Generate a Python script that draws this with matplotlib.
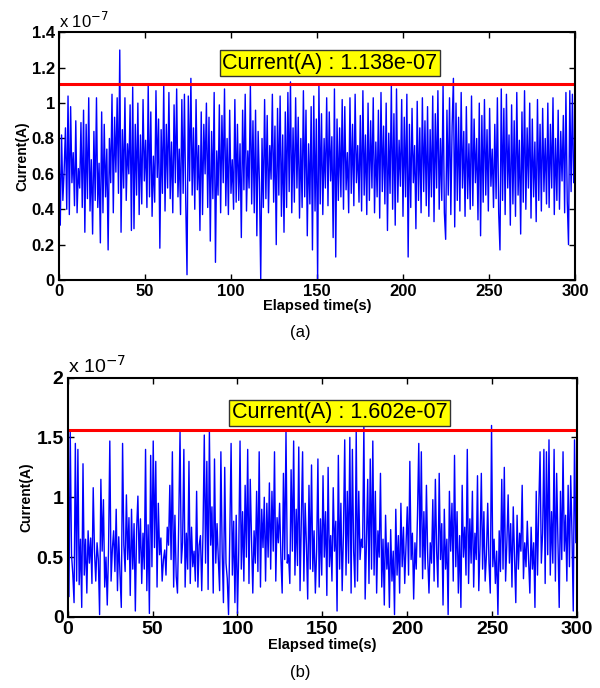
import numpy as np
import matplotlib
matplotlib.use("Agg")
import matplotlib.pyplot as plt

# values in units of 1e-7 A
current_a = [
    0.78, 0.31, 0.82, 0.45, 0.62, 0.86, 0.40, 1.04, 0.37, 0.98, 0.55, 0.72, 0.42, 0.90, 0.38, 0.63, 0.52, 0.89, 0.41, 0.96,
    0.27, 0.88, 0.46, 1.03, 0.39, 0.68, 0.26, 0.84, 0.45, 1.03, 0.41, 0.66, 0.21, 0.95, 0.38, 0.88, 0.47, 0.74, 0.17, 0.80,
    0.55, 1.05, 0.38, 0.92, 0.61, 1.03, 0.49, 1.30, 0.27, 0.85, 0.52, 1.03, 0.45, 0.77, 0.60, 0.99, 0.28, 1.09, 0.29, 0.88,
    0.48, 1.00, 0.37, 0.82, 0.43, 1.02, 0.56, 0.79, 0.41, 1.10, 0.47, 0.95, 0.36, 0.70, 0.44, 1.07, 0.58, 0.91, 0.18, 0.85,
    0.49, 1.10, 0.39, 0.88, 0.52, 1.06, 0.46, 0.78, 0.38, 0.99, 0.55, 1.08, 0.47, 0.74, 0.37, 1.02, 0.49, 1.05, 0.45, 0.03,
    1.04, 0.56, 1.14, 0.48, 0.86, 0.40, 1.02, 0.51, 0.76, 0.28, 0.95, 0.37, 0.88, 0.60, 1.00, 0.41, 0.92, 0.22, 0.84, 0.46,
    1.06, 0.10, 0.73, 0.48, 0.99, 0.38, 0.93, 0.55, 1.08, 0.42, 0.80, 0.37, 0.96, 0.49, 0.68, 0.40, 1.02, 0.44, 0.88, 0.45,
    0.77, 0.24, 0.96, 0.51, 1.05, 0.39, 0.73, 0.52, 1.10, 0.43, 0.90, 0.38, 0.96, 0.25, 0.84, 0.55, 0.00, 0.80, 0.41, 1.02,
    0.46, 0.93, 0.38, 0.76, 0.57, 1.05, 0.44, 0.87, 0.20, 0.97, 0.48, 1.04, 0.36, 0.82, 0.27, 0.95, 0.41, 1.06, 0.50, 1.12,
    0.38, 0.86, 0.44, 1.03, 0.52, 0.92, 0.35, 0.80, 0.41, 1.07, 0.47, 0.96, 0.25, 0.77, 0.43, 0.98, 0.17, 1.04, 0.39, 0.91,
    0.00, 1.10, 0.43, 0.94, 0.37, 0.80, 0.52, 1.03, 0.42, 0.95, 0.56, 0.81, 0.24, 1.08, 0.13, 0.91, 0.45, 0.86, 0.47, 1.02,
    0.40, 0.98, 0.51, 0.72, 0.38, 1.03, 0.49, 0.88, 0.42, 1.05, 0.55, 0.76, 0.44, 0.93, 0.39, 1.07, 0.48, 0.82, 0.37, 1.00,
    0.45, 0.90, 0.52, 1.03, 0.38, 0.78, 0.47, 0.96, 0.35, 1.06, 0.50, 0.87, 0.43, 1.00, 0.28, 0.83, 0.49, 1.10, 0.40, 0.94,
    0.31, 1.08, 0.44, 0.79, 0.53, 1.02, 0.36, 0.92, 0.47, 1.05, 0.13, 0.88, 0.41, 0.97, 0.55, 0.76, 0.29, 1.01, 0.45, 0.86,
    0.38, 1.03, 0.50, 0.90, 0.42, 0.98, 0.36, 0.85, 0.47, 1.04, 0.33, 0.94, 0.52, 1.07, 0.40, 0.80, 0.45, 1.10, 0.38, 0.23,
    0.96, 0.48, 1.03, 0.37, 0.87, 1.14, 0.30, 1.00, 0.45, 0.92, 0.39, 1.06, 0.52, 0.84, 0.36, 0.98, 0.46, 0.77, 0.40, 1.04,
    0.42, 0.91, 0.55, 0.80, 0.34, 1.00, 0.25, 0.93, 0.44, 1.02, 0.48, 0.85, 0.39, 0.97, 0.53, 0.74, 0.41, 0.88, 0.46, 1.03,
    0.38, 0.17, 1.08, 0.45, 0.97, 0.37, 1.05, 0.52, 0.82, 0.31, 0.99, 0.43, 0.90, 0.36, 1.06, 0.48, 0.79, 0.26, 0.95, 0.44,
    1.07, 0.40, 0.86, 0.52, 1.00, 0.35, 0.91, 0.47, 0.78, 0.33, 1.02, 0.45, 0.88, 0.39, 0.97, 0.50, 0.80, 0.43, 1.00, 0.41,
    0.88, 0.52, 1.03, 0.37, 0.80, 0.45, 0.96, 0.40, 0.84, 0.56, 0.93, 0.38, 1.06, 0.45, 0.20, 1.07, 0.50, 1.05, 0.55, 0.58,
]

current_b = [
    1.28, 0.17, 1.55, 0.52, 0.36, 0.12, 1.45, 0.30, 1.40, 0.27, 0.65, 0.08, 1.28, 0.35, 0.65, 0.20, 0.72, 0.45, 0.66, 0.28,
    1.08, 0.55, 0.30, 0.62, 0.48, 0.02, 1.15, 0.55, 0.98, 0.25, 0.50, 0.10, 0.56, 1.47, 0.30, 0.57, 0.72, 0.38, 0.90, 0.22,
    0.67, 0.35, 0.08, 1.45, 0.60, 0.38, 1.02, 0.48, 0.83, 0.18, 0.90, 0.40, 0.78, 0.05, 0.73, 1.01, 0.45, 0.82, 0.28, 0.70,
    0.40, 1.40, 0.22, 0.77, 0.03, 1.35, 0.42, 1.47, 0.58, 1.30, 0.25, 0.95, 0.52, 0.66, 0.30, 0.48, 0.56, 0.35, 0.75, 0.60,
    1.10, 0.48, 1.38, 0.25, 0.85, 0.34, 0.20, 0.80, 1.55, 0.45, 0.62, 1.40, 0.25, 0.70, 0.40, 1.30, 0.28, 0.75, 0.42, 0.55,
    0.30, 1.05, 0.25, 0.60, 0.68, 0.22, 0.71, 1.52, 0.45, 1.30, 0.23, 1.55, 0.60, 0.92, 0.20, 1.32, 0.45, 0.78, 0.48, 0.22,
    1.38, 0.55, 0.12, 1.25, 0.45, 0.32, 0.02, 0.70, 1.45, 0.35, 0.80, 0.12, 0.85, 0.03, 0.55, 1.47, 0.40, 0.88, 0.30, 1.10,
    0.50, 1.40, 0.28, 1.15, 0.65, 0.20, 0.72, 0.45, 1.05, 0.38, 1.38, 0.25, 0.90, 0.58, 1.00, 0.30, 0.95, 0.50, 1.12, 0.40,
    1.05, 0.55, 1.38, 0.30, 0.83, 0.62, 0.95, 0.50, 0.20, 1.20, 0.48, 1.55, 0.45, 0.52, 0.28, 1.23, 0.55, 1.47, 0.35, 0.90,
    0.43, 1.42, 0.22, 0.80, 1.38, 0.30, 0.95, 0.60, 0.15, 1.10, 0.40, 1.27, 0.38, 0.72, 0.20, 0.55, 1.32, 0.25, 0.82, 0.35,
    1.18, 0.50, 0.88, 0.18, 1.25, 0.42, 0.68, 0.30, 1.08, 0.55, 0.80, 0.05, 1.35, 0.40, 0.95, 0.22, 0.70, 1.48, 0.35, 1.05,
    0.45, 1.50, 0.20, 1.40, 0.55, 0.25, 1.55, 0.30, 1.05, 0.48, 0.65, 0.58, 1.60, 0.15, 0.62, 1.15, 0.28, 1.32, 0.40, 1.47,
    0.35, 1.05, 0.20, 0.72, 0.50, 1.20, 0.25, 0.65, 0.10, 0.85, 0.40, 0.62, 0.08, 0.73, 0.30, 0.55, 0.02, 0.90, 0.35, 0.68,
    0.20, 0.95, 0.42, 0.75, 0.28, 0.60, 0.92, 0.35, 1.30, 0.48, 0.70, 0.15, 0.62, 0.40, 0.85, 1.45, 0.50, 1.38, 0.32, 0.88,
    0.40, 1.10, 0.50, 0.20, 0.62, 0.45, 0.98, 0.30, 1.15, 0.55, 0.25, 1.20, 0.48, 0.78, 0.10, 0.90, 0.40, 0.65, 0.02, 1.05,
    0.55, 0.95, 0.30, 1.35, 0.42, 0.88, 0.20, 0.68, 0.08, 1.10, 0.50, 0.75, 0.35, 1.40, 0.28, 0.82, 0.45, 1.05, 0.25, 0.70,
    0.48, 1.18, 0.22, 0.60, 1.20, 0.40, 0.88, 0.30, 0.52, 0.95, 0.45, 0.20, 1.60, 0.42, 0.65, 0.28, 0.55, 0.02, 0.72, 0.38,
    1.15, 0.40, 1.25, 0.30, 0.62, 1.02, 0.45, 0.78, 0.25, 0.92, 0.50, 0.12, 0.85, 0.40, 0.70, 0.55, 1.10, 0.32, 0.62, 0.42,
    0.80, 0.48, 0.20, 0.75, 0.40, 0.62, 0.08, 1.05, 0.35, 0.92, 1.38, 0.45, 0.70, 1.40, 0.28, 1.38, 0.52, 1.48, 0.35, 0.88,
    0.45, 1.40, 0.30, 1.20, 0.62, 0.08, 1.05, 0.48, 1.38, 0.55, 0.85, 0.30, 1.10, 0.42, 1.18, 0.70, 0.05, 1.48, 0.62, 0.85,
]

threshold_a = 1.11
threshold_b = 1.563
label_a = "Current(A) : 1.138e-07"
label_b = "Current(A) : 1.602e-07"
xticks = [0, 50, 100, 150, 200, 250, 300]
yticks_a = [0, 0.2, 0.4, 0.6, 0.8, 1, 1.2, 1.4]
yticklabels_a = ["0", "0.2", "0.4", "0.6", "0.8", "1", "1.2", "1.4"]
yticks_b = [0, 0.5, 1, 1.5, 2]
yticklabels_b = ["0", "0.5", "1", "1.5", "2"]

plt.rcParams['font.family'] = ['Liberation Sans', 'DejaVu Sans']

fig = plt.figure(figsize=(6.0, 6.88), dpi=100)
ax1 = fig.add_axes([0.0983, 0.593, 0.86, 0.360])
ax2 = fig.add_axes([0.1128, 0.1032, 0.849, 0.348])


def style(ax, data, thr, label, yticks, yticklabels, ymax, fs, lblfs, mult_fs, txt_x, txt_y):
    t = np.linspace(0, 300, len(data))
    ax.plot(t, data, color='#0000ff', lw=1.0)
    ax.axhline(thr, color='#ff0000', lw=2.2)
    ax.set_xlim(0, 300)
    ax.set_ylim(0, ymax)
    ax.set_xticks(xticks)
    ax.set_xticklabels([str(v) for v in xticks], fontsize=fs, fontweight='bold')
    ax.set_yticks(yticks)
    ax.set_yticklabels(yticklabels, fontsize=fs, fontweight='bold')
    ax.tick_params(direction='in', top=True, right=True, length=4, width=1, pad=3)
    for s in ax.spines.values():
        s.set_linewidth(1.5)
    ax.set_xlabel("Elapsed time(s)", fontsize=lblfs, fontweight='bold', labelpad=0)
    ax.set_ylabel("Current(A)", fontsize=lblfs - 0.5, fontweight='bold', labelpad=2)
    ax.text(0.0, 1.005, r"x 10$^{-7}$", transform=ax.transAxes, fontsize=mult_fs,
            ha='left', va='bottom')
    ax.text(txt_x, txt_y, label, fontsize=15.5, ha='center', va='center',
            bbox=dict(boxstyle='square,pad=0.12', facecolor='#ffff00', edgecolor='#333333', lw=1.0))


style(ax1, current_a, threshold_a, label_a, yticks_a, yticklabels_a, 1.4, 12, 10.5, 12, 157.6, 1.225)
style(ax2, current_b, threshold_b, label_b, yticks_b, yticklabels_b, 2.0, 14, 10.5, 14, 160, 1.705)

fig.text(0.5, 0.517, "(a)", ha='center', va='center', fontsize=12)
fig.text(0.5, 0.023, "(b)", ha='center', va='center', fontsize=12)

fig.savefig("out.png", dpi=100)
